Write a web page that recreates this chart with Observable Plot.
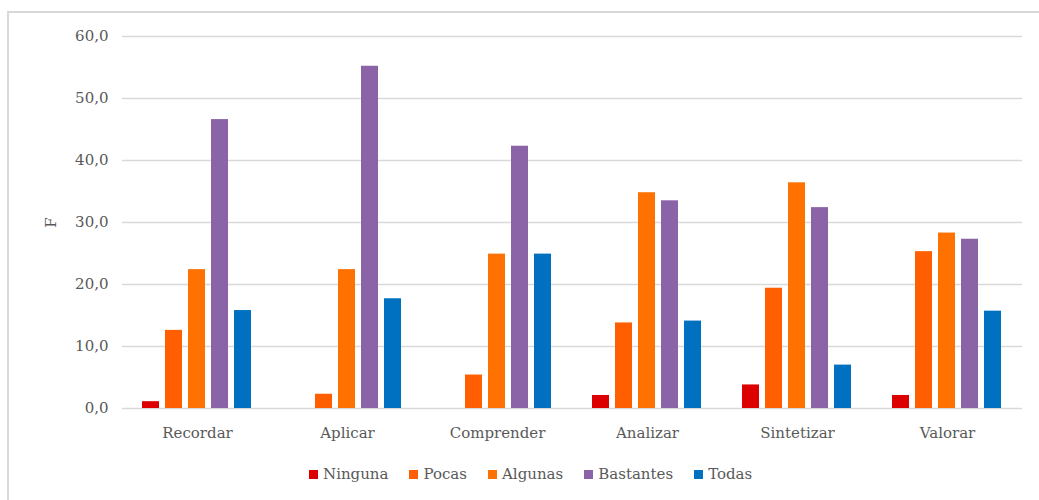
<!DOCTYPE html>
<html>
<head>
<meta charset="utf-8">
<script src="https://cdn.jsdelivr.net/npm/d3@7"></script>
<script src="https://cdn.jsdelivr.net/npm/@observablehq/plot@0.6"></script>
<style>
  html, body { margin: 0; padding: 0; background: #fff; }
  #wrap { position: relative; width: 1039px; height: 500px; overflow: hidden; background: #fff; }
  #frame { position: absolute; left: 7px; top: 11px; right: -10px; bottom: -10px; border: 2px solid #d9d9d9; }
  #chart { position: absolute; left: 0; top: 0; }
  #legend { position: absolute; left: 309px; top: 465px; display: flex; align-items: center;
            font-family: "DejaVu Serif", serif; font-size: 15px; color: #595959; }
  #legend .item { display: flex; align-items: center; margin-right: 21px; }
  #legend .sw { width: 9px; height: 9px; margin-right: 5px; }
</style>
</head>
<body>
<div id="wrap">
  <div id="frame"></div>
  <div id="chart"></div>
  <div id="legend"></div>
</div>
<script>
// Share of answers per cognitive level (Bloom) and frequency category
const categories = ["Recordar", "Aplicar", "Comprender", "Analizar", "Sintetizar", "Valorar"];
const series = ["Ninguna", "Pocas", "Algunas", "Bastantes", "Todas"];
const ninguna   = [1.1, 0, 0, 2.1, 3.8, 2.1];
const pocas     = [12.6, 2.3, 5.4, 13.8, 19.4, 25.3];
const algunas   = [22.4, 22.4, 24.9, 34.8, 36.4, 28.3];
const bastantes = [46.6, 55.2, 42.3, 33.5, 32.4, 27.3];
const todas     = [15.8, 17.7, 24.9, 14.1, 7.0, 15.7];
const colors = ["#dc0000", "#ff5f00", "#ff7100", "#8a64a7", "#0070c0"];
const yTicks = [0, 10, 20, 30, 40, 50, 60];

const values = [ninguna, pocas, algunas, bastantes, todas];
const rows = [];
categories.forEach((c, i) => {
  series.forEach((s, j) => rows.push({category: c, series: s, value: values[j][i]}));
});

const fmt = d => d.toFixed(1).replace(".", ",");

const chart = Plot.plot({
  width: 1039,
  height: 450,
  marginLeft: 120,
  marginRight: 16,
  marginTop: 36,
  marginBottom: 42,
  style: {fontFamily: "DejaVu Serif, serif", fontSize: "15px", color: "#595959", background: "transparent"},
  fx: {domain: categories, padding: 0, label: null},
  x: {domain: series, paddingInner: 0.24, paddingOuter: 0.88, axis: null},
  y: {domain: [0, 60]},
  color: {domain: series, range: colors},
  marks: [
    Plot.gridY(yTicks, {stroke: "#d9d9d9", strokeOpacity: 1, strokeWidth: 1.5}),
    Plot.barY(rows, {fx: "category", x: "series", y: "value", fill: "series"}),
    Plot.axisY({ticks: yTicks, tickSize: 0, tickPadding: 14, tickFormat: fmt,
                label: "F", labelAnchor: "center", labelArrow: "none", labelOffset: 77}),
    Plot.axisFx({anchor: "bottom", tickSize: 0, tickPadding: 19, label: null})
  ]
});
document.getElementById("chart").appendChild(chart);

// Legend
const legend = document.getElementById("legend");
series.forEach((s, i) => {
  const item = document.createElement("div");
  item.className = "item";
  const sw = document.createElement("span");
  sw.className = "sw";
  sw.style.background = colors[i];
  const t = document.createElement("span");
  t.textContent = s;
  item.appendChild(sw);
  item.appendChild(t);
  legend.appendChild(item);
});
</script>
</body>
</html>
